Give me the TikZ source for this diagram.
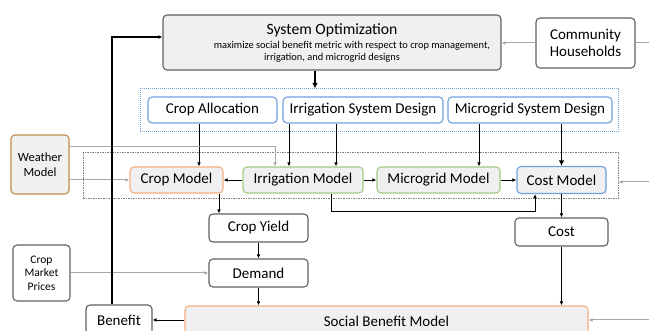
\documentclass[tikz,border=0pt]{standalone}
\usepackage{fontspec}
\setmainfont{Carlito}
\usetikzlibrary{arrows.meta}
\definecolor{boxgray}{HTML}{F0F0F0}
\definecolor{edgegray}{HTML}{606060}
\definecolor{blueedge}{HTML}{6FA0DC}
\definecolor{orangeedge}{HTML}{F4AE7E}
\definecolor{greenedge}{HTML}{9FCB84}
\definecolor{weatheredge}{HTML}{C08B4E}
\definecolor{grayline}{HTML}{A8A8A8}
\definecolor{dotgray}{HTML}{808080}
\tikzset{
  base/.style={rounded corners=4pt, line width=1.1pt, inner sep=0pt, align=center,
    font=\fontsize{15}{17}\selectfont},
  plainbox/.style={base, draw=edgegray, fill=white},
  graybox/.style={base, draw=edgegray, fill=boxgray},
  designbox/.style={base, draw=blueedge, fill=white},
  orangebox/.style={base, draw=orangeedge, fill=boxgray},
  greenbox/.style={base, draw=greenedge, fill=boxgray},
  bluebox/.style={base, draw=blueedge, fill=boxgray},
  weatherbox/.style={base, draw=weatheredge, fill=boxgray, font=\fontsize{12.5}{14.5}\selectfont},
  pricebox/.style={base, draw=edgegray, fill=white, font=\fontsize{11.5}{13.5}\selectfont},
  frameblue/.style={draw=blueedge, line width=1pt, dash pattern=on 1pt off 1pt, inner sep=0pt},
  framegray/.style={draw=dotgray, line width=1pt, dash pattern=on 1.5pt off 1pt, inner sep=0pt},
  arr/.style={-{Latex[length=4pt,width=3.6pt]}, line width=0.9pt, black},
  bigarr/.style={-{Latex[length=5.5pt,width=5.5pt]}, line width=1.8pt, black},
  fbarr/.style={-{Latex[length=4pt,width=3.6pt]}, line width=1.3pt, black},
  grayarr/.style={-{Latex[length=4pt,width=3.6pt]}, line width=1pt, grayline},
  grayln/.style={line width=1pt, grayline},
  txt/.style={inner sep=0pt}
}
\begin{document}
\begin{tikzpicture}[x=1pt,y=-1pt]
\useasboundingbox (0,0) rectangle (649,331);
\clip (0,0) rectangle (649,331);
% frames
\node[frameblue, minimum width=478pt, minimum height=43pt] (designs) at (379,110.5) {};
\node[framegray, minimum width=535pt, minimum height=46pt] (models) at (350.5,176) {};
% system optimization
\node[graybox, minimum width=338pt, minimum height=55pt] (so) at (332,42.5) {};
\node[txt, font=\fontsize{15.7}{18}\selectfont] (sotitle) at (332,30) {System Optimization};
\node[txt, font=\fontsize{10.4}{12}\selectfont] (sosub1) at (352,45.5) {maximize social benefit metric with respect to crop management,};
\node[txt, font=\fontsize{10.4}{12}\selectfont] (sosub2) at (332,57.5) {irrigation, and microgrid designs};
\node[plainbox, minimum width=99pt, minimum height=50pt] (ch) at (585.5,43) {Community\\Households};
% designs
\node[designbox, minimum width=129pt, minimum height=26pt] (ca) at (212.5,110) {Crop Allocation};
\node[designbox, minimum width=160pt, minimum height=26pt] (isd) at (363,110) {Irrigation System Design};
\node[designbox, minimum width=164pt, minimum height=26pt] (msd) at (530,110) {Microgrid System Design};
% models
\node[weatherbox, minimum width=58pt, minimum height=59pt] (wm) at (40,164.5) {Weather\\Model};
\node[orangebox, minimum width=93pt, minimum height=26pt] (cm) at (176.5,180) {Crop Model};
\node[greenbox, minimum width=120pt, minimum height=26pt] (im) at (303,180) {Irrigation Model};
\node[greenbox, minimum width=123pt, minimum height=26pt] (mm) at (438.5,180) {Microgrid Model};
\node[bluebox, minimum width=89pt, minimum height=27pt] (cmod) at (561.5,180) {Cost Model};
% lower
\node[plainbox, minimum width=99pt, minimum height=28pt] (cy) at (258.5,228) {Crop Yield};
\node[plainbox, minimum width=99pt, minimum height=28pt] (dem) at (258.5,273) {Demand};
\node[pricebox, minimum width=57pt, minimum height=56pt] (cmp) at (41.5,273) {Crop\\Market\\Prices};
\node[plainbox, minimum width=93pt, minimum height=28pt] (cost) at (561.5,232) {Cost};
\node[orangebox, minimum width=403pt, minimum height=30pt] (sbm) at (386.5,321) {Social Benefit Model};
\node[plainbox, minimum width=66pt, minimum height=30pt] (ben) at (119,320) {Benefit};
% outer coordinates
\coordinate (chR) at (649,43);
\coordinate (mR) at (649,182);
\coordinate (sR) at (649,320);
% connectors
\draw[bigarr] ([xshift=-17pt]so.south) -- ([xshift=-17pt]so.south |- designs.north);
\draw[grayarr] (ch.west) -- (so.east |- ch.west);
\draw[grayln] (ch.east) -- (chR);
\draw[arr] ([xshift=-13.5pt]ca.south) -- ([xshift=22.5pt]cm.north);
\draw[arr] ([xshift=-74pt]isd.south) -- ([xshift=-14pt]im.north);
\draw[arr] ([xshift=-27pt]isd.south) -- ([xshift=33pt]im.north);
\draw[arr] ([xshift=-51pt]msd.south) -- ([xshift=40.5pt]mm.north);
\draw[bigarr] ([xshift=31.5pt]msd.south) -- (cmod.north);
\draw[grayarr] ([yshift=17.5pt]wm.east) -| ([xshift=-28pt]im.north);
\draw[grayarr] ([yshift=-15.5pt]wm.east) -- (cm.west);
\draw[arr] (im.west) -- (cm.east);
\draw[arr] (im.east) -- (mm.west);
\draw[arr] (mm.east) -- (cmod.west);
\draw[arr] ([xshift=28pt]im.south) -- ++(0,18) -| ([xshift=-26.5pt]cmod.south);
\draw[grayarr] (mR) -- (mR -| models.east);
\draw[arr] ([xshift=42.5pt]cm.south) -- ([xshift=-39.5pt]cy.north);
\draw[arr] (cy.south) -- (dem.north);
\draw[arr] (dem.south) -- (dem.south |- sbm.north);
\draw[arr] (cmod.south) -- (cost.north);
\draw[arr] (cost.south) -- (cost.south |- sbm.north);
\draw[grayarr] (cmp.east) -- (dem.west);
\draw[arr] (sbm.west |- ben.east) -- (ben.east);
\draw[grayarr] (sR) -- (sR -| sbm.east);
\draw[fbarr] ([xshift=-7pt]ben.north) |- ([yshift=5.5pt]so.west);
\end{tikzpicture}
\end{document}
